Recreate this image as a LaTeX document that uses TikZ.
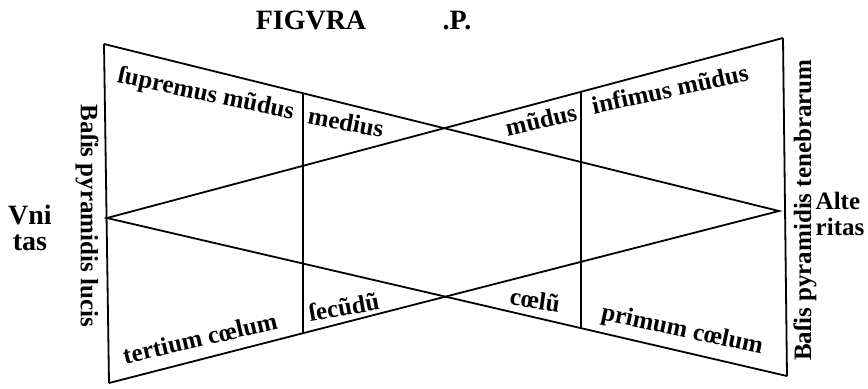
\documentclass[tikz,border=0pt]{standalone}
\usepackage{fontspec}
\setmainfont{Liberation Serif}
\usepackage{tikz}
\usetikzlibrary{calc}

\begin{document}
\begin{tikzpicture}[x=0.5pt,y=-0.5pt,line width=0.9pt,inner sep=0.5pt,
    font=\fontsize{12.5}{13}\selectfont\bfseries]
  \useasboundingbox (0,0) rectangle (868,388);
  \coordinate (TL) at (104,44);
  \coordinate (BL) at (109,383);
  \coordinate (LA) at (107,218);
  \coordinate (TR) at (783,38);
  \coordinate (BR) at (787,376);
  \coordinate (RA) at (779,211);

  % the two bases and the four sides of the pyramids
  \draw (TL)--(BL);
  \draw (TR)--(BR);
  \draw (TL)--(RA)--(BL);
  \draw (TR)--(LA)--(BR);
  % dividers
  \draw ($(TL)!0.2948!(RA)$)--($(BL)!0.2896!(RA)$);
  \draw ($(LA)!0.7012!(TR)$)--($(LA)!0.6970!(BR)$);

  \node[font=\fontsize{14}{15}\selectfont\bfseries] (figura) at (311,20) {FIGVRA};
  \node[font=\fontsize{14}{15}\selectfont\bfseries] (pee) at (457,21) {.P.};
  \node[rotate=-12] (supremus) at (206,95) {ſupremus mũdus};
  \node[rotate=-11] (medius) at (346,122) {medius};
  \node[rotate=13] (mundus) at (541,120) {mũdus};
  \node[rotate=12] (infimus) at (670,89) {infimus mũdus};
  \node[rotate=13] (tertium) at (200,338) {tertium cœlum};
  \node[rotate=10] (secundum) at (344,307) {ſecũdũ};
  \node[rotate=-8] (coelum) at (535,300) {cœlũ};
  \node[rotate=-12] (primum) at (682,331) {primum cœlum};
  \node[rotate=-90] (lucis) at (87,216) {Baſis pyramidis lucis};
  \node[rotate=90] (tenebrarum) at (805,210) {Baſis pyramidis tenebrarum};
  \node[align=center,inner sep=0pt,font=\fontsize{14}{13}\selectfont\bfseries]
    (unitas) at (30,228) {Vni\\tas};
  \node[align=left,inner sep=0pt] (alteritas) at (840,214) {Alte\\ritas};
\end{tikzpicture}
\end{document}
